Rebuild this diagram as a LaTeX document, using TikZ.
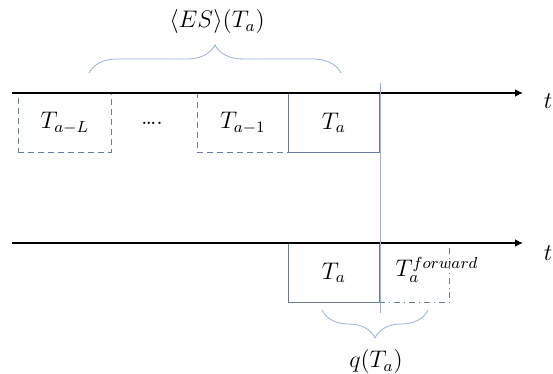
\documentclass[tikz,border=0pt]{standalone}
\usepackage{amsmath}
\usepackage{xcolor}
\usepackage{tikz}
\usetikzlibrary{arrows.meta,decorations.pathreplacing}

\definecolor{boxline}{RGB}{105,125,160}
\definecolor{thinline}{RGB}{150,175,215}

\begin{document}
\begin{tikzpicture}[
    x=0.5pt,y=-0.5pt,
    font=\fontsize{12}{14}\selectfont,
    slot/.style={draw=boxline,thin,minimum height=29.5pt,inner sep=0pt,
                 anchor=north west},
    pastslot/.style={slot,densely dashed},
    fwdslot/.style={slot,dash dot},
    axis/.style={-{Latex[length=4pt,width=4pt]},line width=1.3pt},
    bracket/.style={draw=thinline,thin,decorate,
                    decoration={brace,amplitude=14pt}},
    guide/.style={draw=thinline,thin}
  ]
    \useasboundingbox (0,0) rectangle (553,374);
    % time axes
    \coordinate (a1) at (12,93);
    \coordinate (a2) at (523,93);
    \coordinate (b1) at (12,243);
    \coordinate (b2) at (523,243);
    \node (t1) at (548,101) {$t$};
    \node (t2) at (548,253) {$t$};
    % windows on the upper axis
    \node[pastslot,minimum width=46.5pt] (taL) at (18,93) {$T_{a-L}$};
    \node (dots) at (152,123) {\dots.};
    \node[pastslot,minimum width=45.5pt] (tam1) at (197,93) {$T_{a-1}$};
    \node[slot,minimum width=45.5pt] (ta) at (288,93) {$T_a$};
    % windows on the lower axis
    \node[slot,minimum width=45.5pt] (tb) at (288,243) {$T_a$};
    \node[fwdslot,minimum width=35pt] (tfwd) at (379,243) {};
    \node (fwd) at (437,270) {$T_a^{forward}$};
    \draw[axis] (a1) -- (a2);
    \draw[axis] (b1) -- (b2);
    % present instant
    \coordinate (vtop) at (380,83);
    \coordinate (vbot) at (380,313);
    \draw[guide] (vtop) -- (vbot);
    % braces
    \coordinate (e1) at (89,73);
    \coordinate (e2) at (341,73);
    \draw[bracket] (e1) -- (e2);
    \node (es) at (217,22) {$\langle ES\rangle(T_a)$};
    \coordinate (q1) at (428,310);
    \coordinate (q2) at (322,310);
    \draw[bracket] (q1) -- (q2);
    \node (q) at (376,362) {$q(T_a)$};
  \end{tikzpicture}
\end{document}
